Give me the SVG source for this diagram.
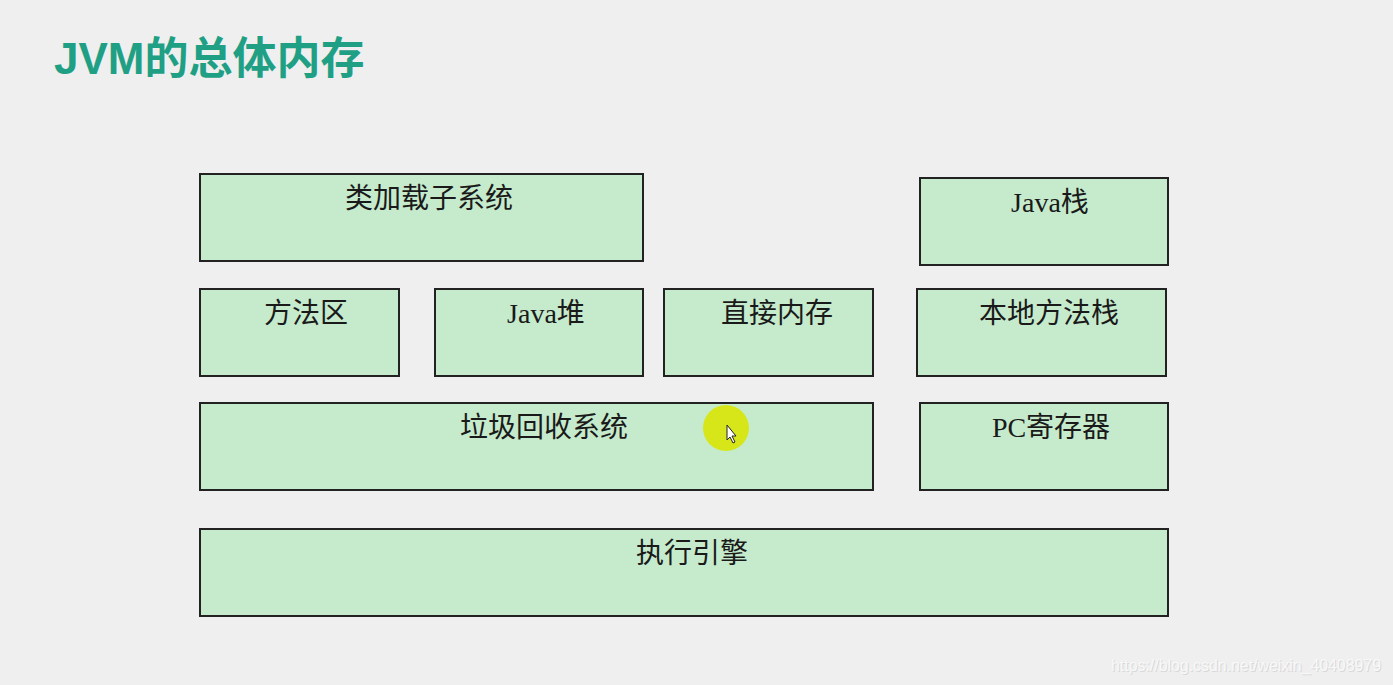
<svg xmlns="http://www.w3.org/2000/svg" width="1393" height="685" viewBox="0 0 1393 685">
<style>
.box{fill:#c6ebcc;stroke:#222;stroke-width:2}
.lbl{font-family:"Liberation Serif","Noto Sans CJK SC",serif;font-size:28px;fill:#1a1a1a;text-anchor:middle}
.title{font-family:"Liberation Sans","Noto Sans CJK SC",sans-serif;font-size:44px;font-weight:bold;fill:#1fa085}
.wm{font-family:"Liberation Sans",sans-serif;font-size:16px;fill:#f8f8f8}
</style>
<rect width="1393" height="685" fill="#efefef"/>
<text class="title" x="54" y="74">JVM的总体内存</text>
<g id="classloader"><rect class="box" x="200" y="174" width="443" height="87"/><text class="lbl" x="429" y="208">类加载子系统</text></g>
<g id="javastack"><rect class="box" x="920" y="178" width="248" height="87"/><text class="lbl" x="1050" y="212">Java栈</text></g>
<g id="methodarea"><rect class="box" x="200" y="289" width="199" height="87"/><text class="lbl" x="306" y="323">方法区</text></g>
<g id="heap"><rect class="box" x="435" y="289" width="208" height="87"/><text class="lbl" x="546" y="323">Java堆</text></g>
<g id="direct"><rect class="box" x="664" y="289" width="209" height="87"/><text class="lbl" x="777" y="323">直接内存</text></g>
<g id="native"><rect class="box" x="917" y="289" width="249" height="87"/><text class="lbl" x="1049" y="323">本地方法栈</text></g>
<g id="gc"><rect class="box" x="200" y="403" width="673" height="87"/><text class="lbl" x="544" y="437">垃圾回收系统</text></g>
<g id="pc"><rect class="box" x="920" y="403" width="248" height="87"/><text class="lbl" x="1051" y="437">PC寄存器</text></g>
<g id="engine"><rect class="box" x="200" y="529" width="968" height="87"/><text class="lbl" x="692" y="563">执行引擎</text></g>
<g id="connectors"></g>
<circle cx="726" cy="428" r="23" fill="#d6e619"/>
<path d="M727 425 L727 440 L730 437 L733 443 L735 442 L732 436 L736 436 Z" fill="#fff" stroke="#222" stroke-width="1"/>
<text class="wm" x="1112" y="672" style="fill:#d8d8d8" textLength="270" lengthAdjust="spacingAndGlyphs">https://blog.csdn.net/weixin_40408979</text>
<text class="wm" x="1111" y="671" textLength="270" lengthAdjust="spacingAndGlyphs">https://blog.csdn.net/weixin_40408979</text>
</svg>
